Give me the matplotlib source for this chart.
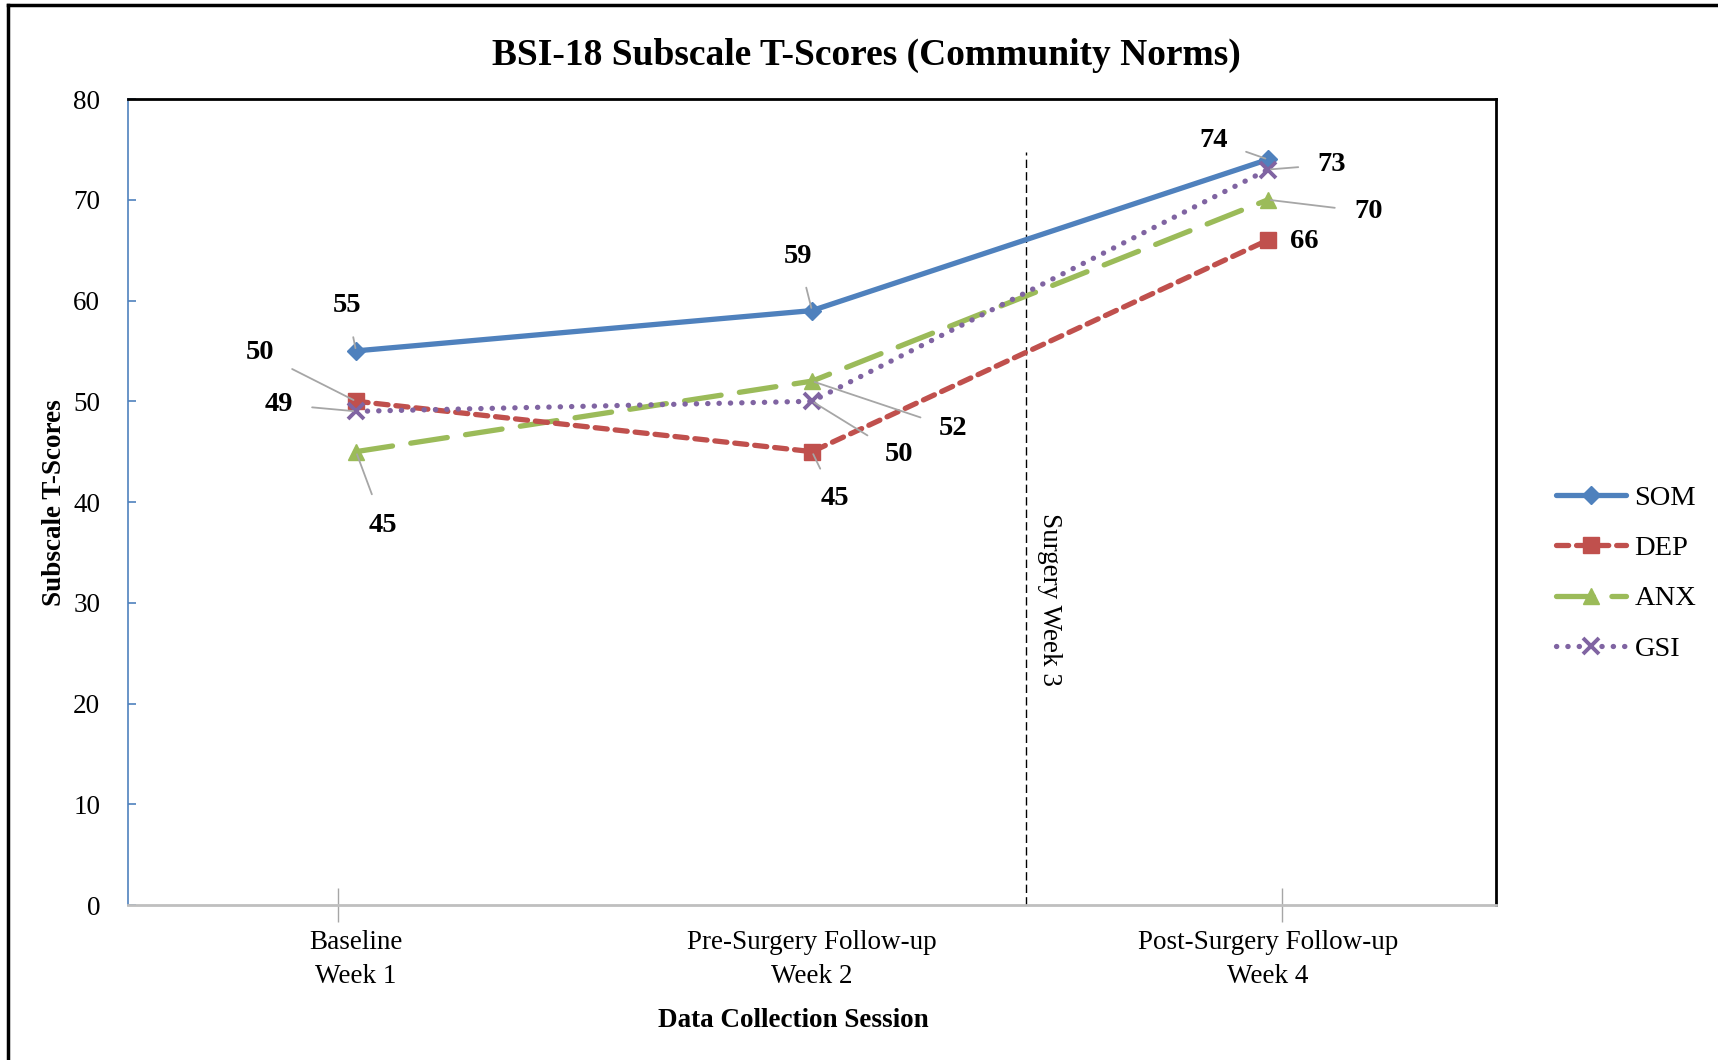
import matplotlib
matplotlib.use("Agg")
import matplotlib.pyplot as plt
from matplotlib.lines import Line2D

plt.rcParams['font.family'] = ['Liberation Serif', 'DejaVu Serif']

# data
sessions = ["Baseline\nWeek 1", "Pre-Surgery Follow-up\nWeek 2", "Post-Surgery Follow-up\nWeek 4"]
series_names = ["SOM", "DEP", "ANX", "GSI"]
som = [55, 59, 74]
dep = [50, 45, 66]
anx = [45, 52, 70]
gsi = [49, 50, 73]
surgery_x = 1.47  # between week 2 and week 4

colors = {"SOM": "#4F81BD", "DEP": "#C0504D", "ANX": "#9BBB59", "GSI": "#8064A2"}

# label positions (data coords) for the value labels, False = no leader line
label_pos = {
    "SOM": [(-0.02, 59.5, True), (0.97, 64.4, True), (1.88, 75.9, True)],
    "DEP": [(-0.21, 54.8, True), (1.05, 40.3, True), (2.08, 65.9, False)],
    "ANX": [(0.06, 37.7, True), (1.31, 47.3, True), (2.22, 68.8, True)],
    "GSI": [(-0.17, 49.7, True), (1.19, 44.7, True), (2.14, 73.5, True)],
}

fig = plt.figure(figsize=(17.18, 10.6), dpi=100)
ax = fig.add_axes([0.0745, 0.1462, 0.7963, 0.7604])

x = list(range(len(sessions)))

ax.plot(x, som, color=colors["SOM"], lw=3.8, marker="D", ms=9.5, label="SOM",
        solid_capstyle="round", zorder=5)
ax.plot(x, dep, color=colors["DEP"], lw=3.8, marker="s", ms=11.5, label="DEP",
        dashes=(2.3, 1.5), dash_capstyle="round", zorder=4)
ax.plot(x, anx, color=colors["ANX"], lw=3.8, marker="^", ms=11.5, label="ANX",
        dashes=(7, 3.5), dash_capstyle="round", zorder=3)
ax.plot(x, gsi, color=colors["GSI"], lw=3.8, marker="x", ms=11, mew=2.8, label="GSI",
        dashes=(0.05, 2.1), dash_capstyle="round", zorder=6)

# value labels with leader lines
for name, vals in zip(series_names, [som, dep, anx, gsi]):
    for i, v in enumerate(vals):
        lx, ly, leader = label_pos[name][i]
        if leader:
            ax.annotate(str(v), xy=(i, v), xytext=(lx, ly), ha="center", va="center",
                        fontsize=20.5, fontweight="bold", zorder=10,
                        arrowprops=dict(arrowstyle="-", color="#A6A6A6", lw=1.3,
                                        shrinkA=12, shrinkB=2))
        else:
            ax.text(lx, ly, str(v), ha="center", va="center", fontsize=20.5,
                    fontweight="bold", zorder=10)

# surgery marker
ax.plot([surgery_x, surgery_x], [0, 74.7], color="black", lw=1, ls=(0, (6, 3)))
ax.text(surgery_x + 0.05, 30.3, "Surgery Week 3", rotation=270, ha="center", va="center",
        fontsize=19.5)

ax.set_xlim(-0.5, 2.5)
ax.set_ylim(0, 80)
ax.set_yticks(range(0, 81, 10))
ax.set_xticks(x)
ax.set_xticklabels(sessions, fontsize=19.5, linespacing=1.45)
ax.set_xticks([-0.04, 1.0, 2.03], minor=True)
ax.tick_params(axis="x", which="major", length=0, pad=18)
ax.tick_params(axis="x", which="minor", direction="inout", length=24, color="#A6A6A6", width=1)
ax.tick_params(axis="y", direction="in", length=6, color="#4F81BD", width=1.2,
               labelsize=19.5, pad=20)

ax.spines["left"].set_color("#4F81BD")
ax.spines["left"].set_linewidth(1.2)
ax.spines["bottom"].set_color("#BFBFBF")
ax.spines["bottom"].set_linewidth(2)
ax.spines["top"].set_color("black")
ax.spines["top"].set_linewidth(2)
ax.spines["right"].set_color("black")
ax.spines["right"].set_linewidth(2)

fig.text(0.5045, 0.948, "BSI-18 Subscale T-Scores (Community Norms)", ha="center", va="center",
         fontsize=27, fontweight="bold")
fig.text(0.4617, 0.0377, "Data Collection Session", ha="center", va="center",
         fontsize=19.5, fontweight="bold")
fig.text(0.032, 0.526, "Subscale T-Scores", ha="center", va="center", rotation=90,
         fontsize=19.5, fontweight="bold")

leg = fig.legend(loc="center left", bbox_to_anchor=(0.8975, 0.459), frameon=False,
                 fontsize=20.5, handlelength=2.45, labelspacing=0.85, borderpad=0,
                 handletextpad=0.3)

# outer frame (top and left edges visible)
fig.add_artist(Line2D([0.0047, 0.0047], [0, 0.995], transform=fig.transFigure,
                      color="black", lw=2.5))
fig.add_artist(Line2D([0.0047, 1], [0.995, 0.995], transform=fig.transFigure,
                      color="black", lw=2.5))

fig.savefig("out.png", dpi=100)
